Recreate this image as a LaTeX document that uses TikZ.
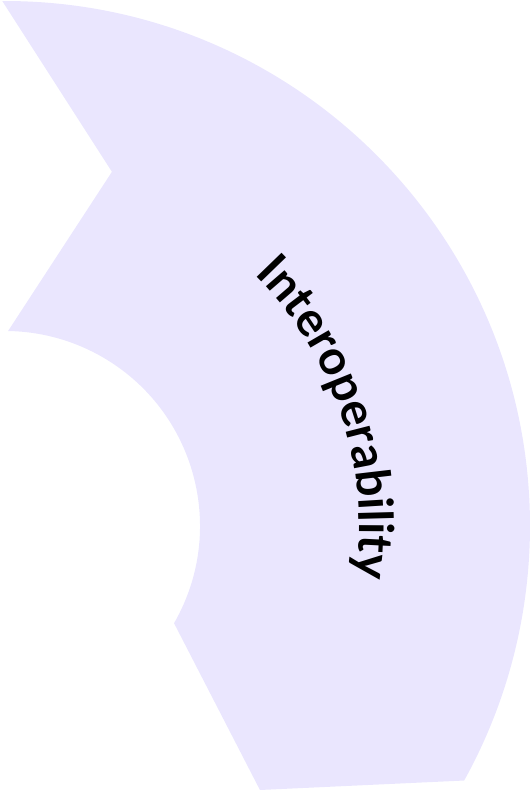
\documentclass[tikz,border=0pt]{standalone}
\usepackage{fontspec}
\setmainfont{Lato}
\usetikzlibrary{decorations.text}
\definecolor{lavender}{RGB}{234,230,254}
\begin{document}
\begin{tikzpicture}[x=1bp,y=1bp]
        \useasboundingbox (-5,-267) rectangle (526,526);
        \fill[lavender] (90.3:525) arc[start angle=90.3, end angle=-29, radius=525] -- (-46:367) -- (-29.9:195) arc[start angle=-29.9, end angle=89.1, radius=195] -- (73.2:370) -- cycle;
        \path[decorate, decoration={text along path, text align=center, text={|\bfseries\fontsize{48}{48}\selectfont|Interoperability}}] (78.5:354) arc[start angle=78.5, end angle=-41.5, radius=354];
      \end{tikzpicture}
\end{document}
